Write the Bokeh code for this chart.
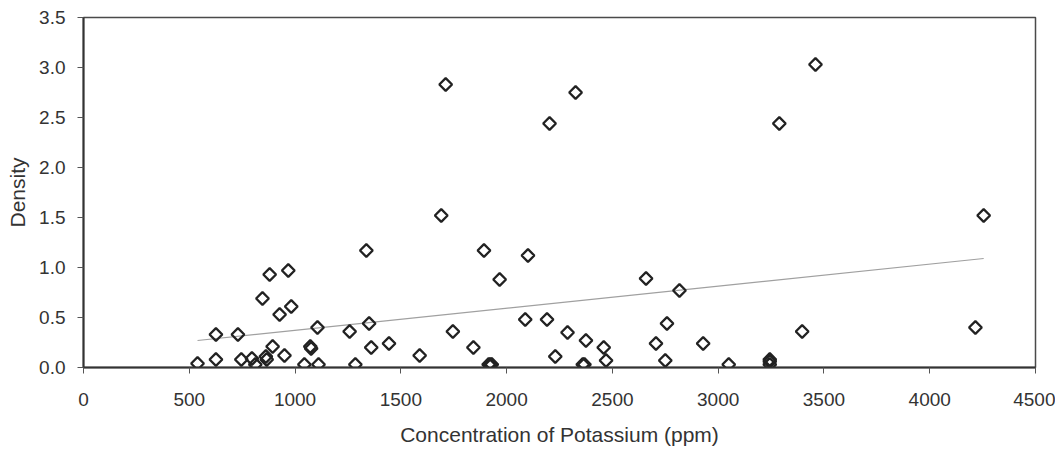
import math
from bokeh.plotting import figure
from bokeh.models import Range1d, FixedTicker, ColumnDataSource
from bokeh.embed import file_html
from bokeh.resources import INLINE

# Data
potassium = [539, 626, 626, 730, 746, 796, 812, 846, 862, 866, 880, 894, 927, 950,
             968, 982, 1044, 1072, 1076, 1106, 1111, 1258, 1285, 1337, 1350, 1360,
             1444, 1589, 1691, 1712, 1746, 1843, 1893, 1915, 1923, 1930, 1967, 2088,
             2101, 2191, 2203, 2230, 2288, 2326, 2360, 2368, 2375, 2459, 2470, 2659,
             2706, 2750, 2758, 2817, 2929, 3050, 3244, 3244, 3244, 3289, 3397, 3460,
             4216, 4255]
density = [0.04, 0.33, 0.08, 0.33, 0.08, 0.09, 0.03, 0.69, 0.11, 0.08, 0.93, 0.21,
           0.53, 0.12, 0.97, 0.61, 0.03, 0.21, 0.19, 0.40, 0.03, 0.36, 0.03, 1.17,
           0.44, 0.20, 0.24, 0.12, 1.52, 2.83, 0.36, 0.20, 1.17, 0.03, 0.03, 0.03,
           0.88, 0.48, 1.12, 0.48, 2.44, 0.11, 0.35, 2.75, 0.03, 0.03, 0.27, 0.20,
           0.07, 0.89, 0.24, 0.07, 0.44, 0.77, 0.24, 0.03, 0.03, 0.06, 0.08, 2.44,
           0.36, 3.03, 0.40, 1.52]

trend_x = [539, 4255]
trend_y = [0.27, 1.09]

x_ticks = [0, 500, 1000, 1500, 2000, 2500, 3000, 3500, 4000, 4500]
y_ticks = [0.0, 0.5, 1.0, 1.5, 2.0, 2.5, 3.0, 3.5]
y_tick_labels = {v: f"{v:.1f}" for v in y_ticks}

FONT = "Liberation Sans"
TEXT = "#333333"

p = figure(frame_width=952, frame_height=350, output_backend="svg", toolbar_location=None,
           x_range=Range1d(0, 4500), y_range=Range1d(0, 3.5),
           min_border_left=83, min_border_right=20, min_border_top=17,
           min_border_bottom=82)

p.background_fill_color = "white"
p.border_fill_color = "white"
p.outline_line_color = "#4a4a4a"
p.outline_line_width = 1.5
p.xgrid.visible = False
p.ygrid.visible = False

p.xaxis.ticker = FixedTicker(ticks=x_ticks)
p.yaxis.ticker = FixedTicker(ticks=y_ticks)
p.yaxis.major_label_overrides = y_tick_labels

for ax in (p.xaxis, p.yaxis):
    ax.axis_line_color = "#333333"
    ax.axis_line_width = 2
    ax.major_tick_line_color = "#555555"
    ax.major_tick_line_width = 1
    ax.major_tick_in = 0
    ax.major_tick_out = 6
    ax.minor_tick_line_color = None
    ax.major_label_text_font = FONT
    ax.major_label_text_font_size = "19px"
    ax.major_label_text_color = TEXT
    ax.axis_label_text_font = FONT
    ax.axis_label_text_font_size = "21px"
    ax.axis_label_text_font_style = "normal"
    ax.axis_label_text_color = TEXT

p.xaxis.axis_label = "Concentration of Potassium (ppm)"
p.yaxis.axis_label = "Density"
p.xaxis.major_label_standoff = 19
p.xaxis.axis_label_standoff = 14
p.yaxis.major_label_standoff = 12
p.yaxis.axis_label_standoff = 7

p.line(trend_x, trend_y, line_color="#a0a0a0", line_width=1.1)

src = ColumnDataSource(dict(x=potassium, y=density))
p.scatter("x", "y", source=src, marker="square", angle=math.pi / 4, size=9,
          line_color="#222222", line_width=2.3, fill_alpha=0)

open("out.html", "w").write(file_html(p, INLINE))
